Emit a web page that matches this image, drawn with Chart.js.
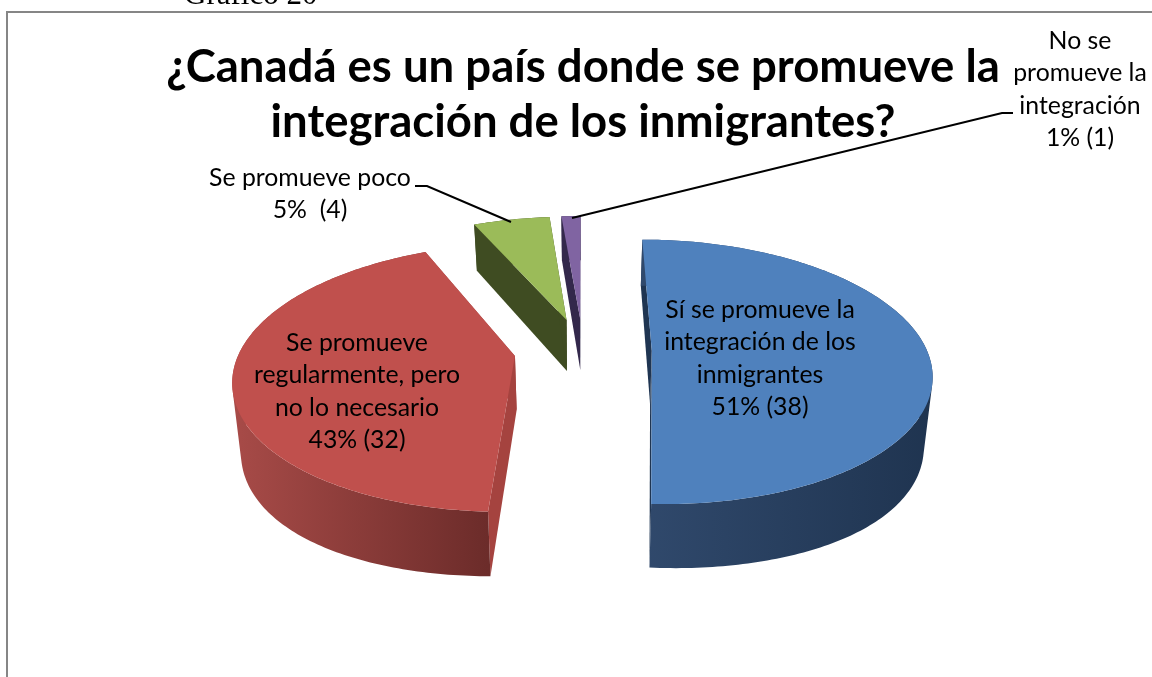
<!DOCTYPE html>
<html lang="es">
<head>
  <meta charset="UTF-8" />
  <title>Gráfico 20</title>
  <script src="https://cdn.jsdelivr.net/npm/chart.js"></script>
  <style>
    html, body { margin: 0; height: 100%; overflow: hidden; background: white; }
    /* canvas runs past the right edge so the title centres on the frame */
    #wrap { position: absolute; left: 0; top: 0; width: 1166px; height: 677px; }
  </style>
</head>
<body>
  <div id="wrap"><canvas id="pie" width="1166" height="677"></canvas></div>

  <script>
    const categories = [
      ['Sí se promueve la', 'integración de los', 'inmigrantes'],
      ['Se promueve', 'regularmente, pero', 'no lo necesario'],
      ['Se promueve poco'],
      ['No se', 'promueve la', 'integración']
    ];
    const counts = [38, 32, 4, 1];
    const valueLabels = ['51% (38)', '43% (32)', '5%  (4)', '1% (1)'];

    const topColors = ['#4f81bd', '#c0504d', '#9bbb59', '#8064a2'];
    const cutColors = ['#1f3552', '#a5433f', '#3f4c22', '#33284b'];
    const rimColors = [['#30496c', '#1f3450'], ['#a84b48', '#6c2c2a'], ['#3f4c22', '#3f4c22'], ['#33284b', '#33284b']];

    const titleLines = ['¿Canadá es un país donde se promueve la', 'integración de los inmigrantes?'];
    const labelFont = '24.8px Lato';
    const labelSpots = [[760, 310], [357, 343], [310, 178], [1080, 41]];
    const leaders = [
      [[415, 186], [427, 186], [511, 222]],
      [[1013, 113], [1002, 113], [572, 218]]
    ];

    // tilted pie: centre, radii, perspective, explosion and wall height
    const cx = 583, cy = 350, rx = 275, ry = 128.6, persp = 0.16, explode = 0.25, wall = 53, floor = 0.975, bulge = 9;

    function project(angle, r, mid) {
      const u = explode * Math.cos(mid) + r * Math.cos(angle);
      const v = -(explode * Math.sin(mid) + r * Math.sin(angle));
      const w = 1 + persp * v;
      return { x: cx + rx * u / w, y: cy - ry * v / w, w };
    }

    // same point on the underside of the pie, the wall gets a bit taller towards the sides
    function lower(p) {
      const side = (p.x - cx) / rx;
      return { x: cx + (p.x - cx) * floor, y: p.y + wall / p.w + bulge * side * side };
    }

    function tracePoly(ctx, pts) {
      pts.forEach((p, i) => i ? ctx.lineTo(p.x, p.y) : ctx.moveTo(p.x, p.y));
      ctx.closePath();
    }

    function fillPoly(ctx, pts, fill) {
      ctx.beginPath();
      tracePoly(ctx, pts);
      ctx.fillStyle = fill;
      ctx.fill();
    }

    function signedArea(pts) {
      return pts.reduce((sum, p, i) => {
        const q = pts[(i + 1) % pts.length];
        return sum + p.x * q.y - q.x * p.y;
      }, 0);
    }

    const pie3d = {
      id: 'pie3d',
      // replaces the flat arcs, the angles still come from the chart's elements
      beforeDatasetDraw(chart) {
        const ctx = chart.ctx;
        chart.getDatasetMeta(0).data.forEach((arc, i) => {
          const { startAngle, endAngle } = arc;
          const mid = (startAngle + endAngle) / 2;
          const steps = Math.max(4, Math.ceil((endAngle - startAngle) * 60));
          const edge = [];
          for (let s = 0; s <= steps; s++) {
            edge.push(project(startAngle + (endAngle - startAngle) * s / steps, 1, mid));
          }
          const apex = project(mid, 0, mid);
          const first = edge[0], last = edge[edge.length - 1];

          fillPoly(ctx, [first, apex, lower(apex), lower(first)], cutColors[i]);
          fillPoly(ctx, [last, apex, lower(apex), lower(last)], cutColors[i]);

          const xs = edge.map(p => p.x);
          const grad = ctx.createLinearGradient(Math.min(...xs), 0, Math.max(...xs), 0);
          grad.addColorStop(0, rimColors[i][0]);
          grad.addColorStop(1, rimColors[i][1]);
          // outer wall as same-way-round quads in one path, a plain outline folds over itself at the sides
          ctx.beginPath();
          for (let s = 0; s < steps; s++) {
            const quad = [edge[s], edge[s + 1], lower(edge[s + 1]), lower(edge[s])];
            tracePoly(ctx, signedArea(quad) < 0 ? quad.reverse() : quad);
          }
          ctx.fillStyle = grad;
          ctx.fill();

          fillPoly(ctx, [apex].concat(edge), topColors[i]);
        });
        return false;
      },
      afterDatasetsDraw(chart) {
        const ctx = chart.ctx;
        ctx.save();
        // page furniture
        ctx.strokeStyle = '#868686';
        ctx.lineWidth = 2;
        ctx.beginPath();
        ctx.moveTo(7, 677);
        ctx.lineTo(7, 12);
        ctx.lineTo(1166, 12);
        ctx.stroke();
        ctx.fillStyle = '#000';
        ctx.font = '31px "Liberation Serif"';
        ctx.textAlign = 'left';
        ctx.textBaseline = 'alphabetic';
        ctx.fillText('Gráfico 20', 184, 4);

        // leader lines
        ctx.strokeStyle = '#000';
        ctx.lineWidth = 2;
        leaders.forEach(line => {
          ctx.beginPath();
          line.forEach((p, i) => i ? ctx.lineTo(p[0], p[1]) : ctx.moveTo(p[0], p[1]));
          ctx.stroke();
        });

        // slice labels
        ctx.font = labelFont;
        ctx.textAlign = 'center';
        ctx.textBaseline = 'middle';
        categories.forEach((lines, i) => {
          const all = lines.concat(valueLabels[i]);
          all.forEach((text, j) => {
            ctx.fillText(text, labelSpots[i][0], labelSpots[i][1] + j * 32.5);
          });
        });
        ctx.restore();
      }
    };

    new Chart(document.getElementById('pie'), {
      type: 'pie',
      data: {
        labels: categories.map(c => c.join(' ')),
        datasets: [{ data: counts, backgroundColor: topColors, borderWidth: 0 }]
      },
      options: {
        responsive: false,
        animation: false,
        plugins: {
          legend: { display: false },
          tooltip: { enabled: false },
          title: {
            display: true,
            text: titleLines,
            color: '#000',
            font: { family: 'Lato', size: 45.5, weight: 'bold', lineHeight: 1.2 },
            padding: { top: 40, bottom: 10 }
          }
        }
      },
      plugins: [pie3d]
    });
  </script>
</body>
</html>
